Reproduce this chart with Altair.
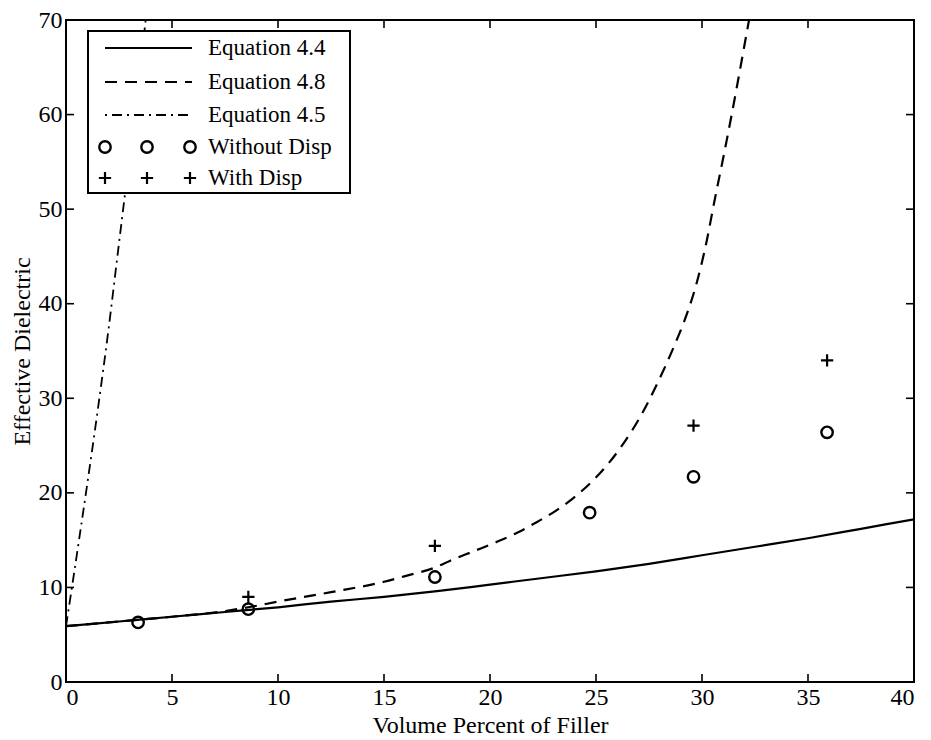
import altair as alt
import pandas as pd

# Model curves: volume percent of filler vs effective dielectric constant
eq44_x = [0, 2.5, 5, 7.5, 10, 12.5, 15, 17.5, 20, 22.5, 25, 27.5, 30, 32.5, 35, 37.5, 40]
eq44_y = [5.9, 6.4, 6.9, 7.4, 7.9, 8.5, 9.0, 9.6, 10.3, 11.0, 11.7, 12.5, 13.4, 14.3, 15.2, 16.2, 17.2]

eq48_x = [0, 2.5, 5, 7.5, 8.6, 10, 12.5, 15, 16, 17.4, 18.1, 19.2, 20.3, 21.3, 22.2, 23.1,
          23.9, 24.9, 26.1, 27.2, 27.9, 28.7, 29.3, 29.7, 30.2, 30.6, 31.0, 31.4, 31.7, 32.0, 32.3]
eq48_y = [5.9, 6.4, 6.9, 7.5, 7.9, 8.5, 9.5, 10.6, 11.2, 12.1, 12.8, 13.8, 14.8, 15.8, 16.9, 18.1,
          19.4, 21.4, 24.6, 28.5, 31.6, 35.6, 39.0, 41.8, 46.4, 51.0, 55.4, 60.0, 63.6, 67.3, 71.0]

eq45_x = [0, 0.3, 0.6, 1.0, 1.5, 2.0, 2.5, 3.0, 3.5, 3.8]
eq45_y = [5.9, 10.3, 14.8, 20.9, 28.8, 37.2, 46.4, 55.6, 65.0, 70.8]

# Measured samples
nodisp_x = [3.4, 8.6, 17.4, 24.7, 29.6, 35.9]
nodisp_y = [6.3, 7.7, 11.1, 17.9, 21.7, 26.4]
disp_x = [8.6, 17.4, 29.6, 35.9]
disp_y = [9.0, 14.4, 27.1, 34.0]

x_ticks = [0, 5, 10, 15, 20, 25, 30, 35, 40]
y_ticks = [0, 10, 20, 30, 40, 50, 60, 70]

legend_labels = ["Equation 4.4", "Equation 4.8", "Equation 4.5", "Without Disp", "With Disp"]

W, H = 848, 662
FONT = "Liberation Serif"
TL = 8  # inward tick length

xs = alt.Scale(domain=[0, 40], nice=False, zero=False)
ys = alt.Scale(domain=[0, 70], nice=False, zero=False)
xaxis = alt.Axis(values=x_ticks, format="d", domain=False, ticks=False, grid=False,
                 labelFont=FONT, labelFontSize=24, labelColor="black", labelPadding=3,
                 titleFont=FONT, titleFontSize=24, titleFontWeight="normal",
                 titleColor="black", titlePadding=4)
yaxis = alt.Axis(values=y_ticks, format="d", domain=False, ticks=False, grid=False,
                 labelFont=FONT, labelFontSize=24, labelColor="black", labelPadding=4,
                 titleFont=FONT, titleFontSize=24, titleFontWeight="normal",
                 titleColor="black", titlePadding=4)

xenc = alt.X("x:Q", scale=xs, axis=xaxis, title="Volume Percent of Filler")
yenc = alt.Y("y:Q", scale=ys, axis=yaxis, title="Effective Dielectric")


def frame(xv, yv):
    return pd.DataFrame({"x": xv, "y": yv})


line44 = alt.Chart(frame(eq44_x, eq44_y)).mark_line(
    color="black", strokeWidth=2.2, clip=True, interpolate="monotone"
).encode(x=xenc, y=yenc)

line48 = alt.Chart(frame(eq48_x, eq48_y)).mark_line(
    color="black", strokeWidth=2.2, strokeDash=[12, 8], clip=True, interpolate="monotone"
).encode(x=xenc, y=yenc)

line45 = alt.Chart(frame(eq45_x, eq45_y)).mark_line(
    color="black", strokeWidth=1.8, strokeDash=[10, 5, 2, 5], clip=True, interpolate="monotone"
).encode(x=xenc, y=yenc)

PLUS = "M-1,0H1M0,-1V1"

pts_nodisp = alt.Chart(frame(nodisp_x, nodisp_y)).mark_point(
    shape="circle", size=130, filled=False, color="black", strokeWidth=2.4, opacity=1
).encode(x=xenc, y=yenc)

pts_disp = alt.Chart(frame(disp_x, disp_y)).mark_point(
    shape=PLUS, size=150, filled=False, color="black", strokeWidth=2.2, opacity=1
).encode(x=xenc, y=yenc)

# Inward tick marks on all four sides of the box
xt = pd.DataFrame({"x": x_ticks[1:-1]})
yt = pd.DataFrame({"y": y_ticks[1:-1]})
tick_style = dict(color="black", strokeWidth=1.6)
ticks_bottom = alt.Chart(xt).mark_rule(**tick_style).encode(
    x=xenc, y=alt.value(H), y2=alt.value(H - TL))
ticks_top = alt.Chart(xt).mark_rule(**tick_style).encode(
    x=xenc, y=alt.value(0), y2=alt.value(TL))
ticks_left = alt.Chart(yt).mark_rule(**tick_style).encode(
    y=yenc, x=alt.value(0), x2=alt.value(TL))
ticks_right = alt.Chart(yt).mark_rule(**tick_style).encode(
    y=yenc, x=alt.value(W), x2=alt.value(W - TL))

# Legend panel
one = pd.DataFrame({"a": [0]})
LX0, LX1, LY0, LY1 = 22, 284, 11, 173
row_y = [28, 62, 95, 127, 158]
sx0, sx1, tx = 39, 126, 142
mk_x = [39, 81, 124]

legend_box = alt.Chart(one).mark_rect(fill="white", stroke="black", strokeWidth=2).encode(
    x=alt.value(LX0), x2=alt.value(LX1), y=alt.value(LY0), y2=alt.value(LY1))

leg_solid = alt.Chart(one).mark_rule(color="black", strokeWidth=2.2).encode(
    x=alt.value(sx0), x2=alt.value(sx1), y=alt.value(row_y[0]))
leg_dash = alt.Chart(one).mark_rule(color="black", strokeWidth=2.2, strokeDash=[12, 8]).encode(
    x=alt.value(sx0), x2=alt.value(sx1), y=alt.value(row_y[1]))
leg_dashdot = alt.Chart(one).mark_rule(color="black", strokeWidth=1.8, strokeDash=[2, 5, 10, 5]).encode(
    x=alt.value(sx0), x2=alt.value(sx1), y=alt.value(row_y[2]))

leg_circles = alt.Chart(pd.DataFrame({"px": mk_x})).mark_point(
    shape="circle", size=130, filled=False, color="black", strokeWidth=2.4, opacity=1
).encode(x=alt.X("px:Q", scale=None), y=alt.value(row_y[3]))
leg_plus = alt.Chart(pd.DataFrame({"px": mk_x})).mark_point(
    shape=PLUS, size=150, filled=False, color="black", strokeWidth=2.2, opacity=1
).encode(x=alt.X("px:Q", scale=None), y=alt.value(row_y[4]))

leg_text = alt.Chart(pd.DataFrame({"label": legend_labels, "py": row_y})).mark_text(
    align="left", baseline="middle", font=FONT, fontSize=23, color="black"
).encode(x=alt.value(tx), y=alt.Y("py:Q", scale=None), text="label:N")

chart = alt.layer(
    line44, line48, line45, pts_nodisp, pts_disp,
    ticks_bottom, ticks_top, ticks_left, ticks_right,
    legend_box, leg_solid, leg_dash, leg_dashdot, leg_circles, leg_plus, leg_text,
).properties(
    width=W, height=H,
    autosize=alt.AutoSizeParams(type="none"),
    padding={"left": 66, "top": 20, "right": 17, "bottom": 58},
    background="white",
).configure_view(
    stroke="black", strokeWidth=2
)

chart.save("out.html", embed_options={"renderer": "svg", "actions": False})
